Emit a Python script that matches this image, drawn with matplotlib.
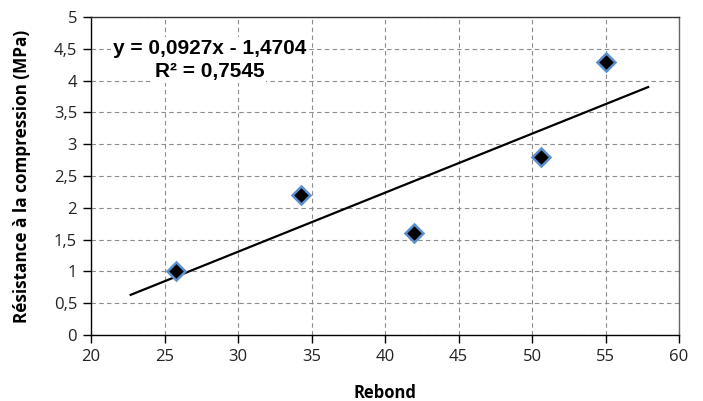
import matplotlib
matplotlib.use("Agg")
import matplotlib.pyplot as plt
from matplotlib.ticker import FuncFormatter, MultipleLocator
import numpy as np

# données
rebond = [25.8, 34.3, 42.0, 50.6, 55.0]
resistance = [1.0, 2.2, 1.6, 2.8, 4.3]
trend_range = [22.7, 57.9]
equation = 'y = 0,0927x - 1,4704'
r_carre = 'R² = 0,7545'

coef = np.polyfit(rebond, resistance, 1)

fig = plt.figure(figsize=(7.03, 4.01), dpi=100)
# axe : x 91..679 px, y 17..335 px
ax = fig.add_axes([91 / 703, 66 / 401, 588 / 703, 318 / 401])

xt = np.array(trend_range)
ax.plot(xt, np.polyval(coef, xt), color='black', lw=1.6, zorder=2)
ax.plot(rebond, resistance, 'D', ms=9.5, mfc='black', mec='#5B8FCF', mew=1.8, zorder=3)

ax.set_xlim(20, 60)
ax.set_ylim(0, 5)
ax.xaxis.set_major_locator(MultipleLocator(5))
ax.yaxis.set_major_locator(MultipleLocator(0.5))
fmt = FuncFormatter(lambda v, p: ('%g' % v).replace('.', ','))
ax.xaxis.set_major_formatter(fmt)
ax.yaxis.set_major_formatter(fmt)
ax.grid(True, color='#8c8c8c', lw=0.8, linestyle=(0, (4, 3)))
ax.set_axisbelow(True)
for s in ax.spines.values():
    s.set_linewidth(1.0)
ax.spines['left'].set_color('black')
ax.spines['bottom'].set_color('black')
ax.spines['top'].set_color('#333333')
ax.spines['right'].set_color('#666666')
ax.tick_params(direction='out', length=6, width=1, labelsize=12, labelcolor='#222222', pad=4)
for lab in ax.get_xticklabels() + ax.get_yticklabels():
    lab.set_family('Open Sans')

ax.set_xlabel('Rebond', fontsize=12, fontweight='bold', family='Open Sans', va='center')
ax.xaxis.set_label_coords(0.5, -(393 - 335) / 318)
ax.set_ylabel('Résistance à la compression (MPa)', fontsize=12.3, fontweight='bold',
              family='Open Sans', va='center')
ax.yaxis.set_label_coords(-(91 - 22) / 588, 0.5)

box = dict(boxstyle='square,pad=0.1', fc='white', ec='none')
ax.text(28.06, 4.51, equation, ha='center', va='center',
        fontsize=15, fontweight='bold', family='Liberation Sans', bbox=box, zorder=4)
ax.text(28.06, 4.14, r_carre, ha='center', va='center',
        fontsize=15, fontweight='bold', family='Liberation Sans', bbox=box, zorder=4)

fig.savefig('out.png', dpi=100)
